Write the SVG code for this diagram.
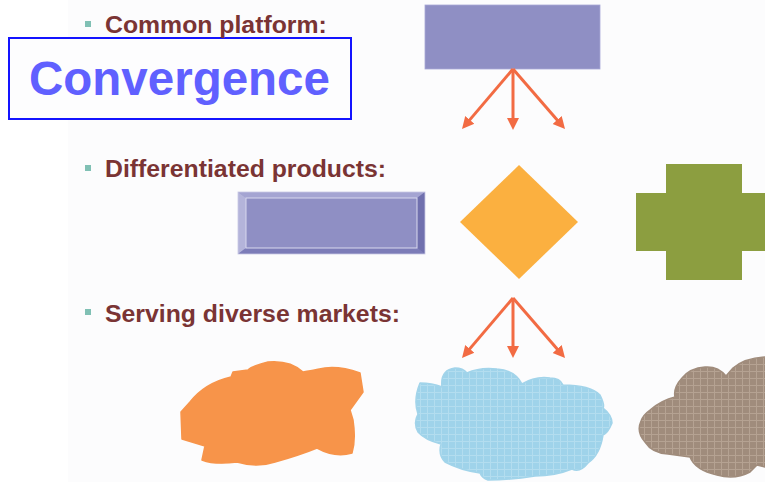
<svg xmlns="http://www.w3.org/2000/svg" width="765" height="482" viewBox="0 0 765 482">
<defs>
<style>
.lbl{font-family:"Liberation Sans",Arial,sans-serif;font-weight:bold;font-size:24.8px;fill:#7a3434}
.bul{fill:#80c0b4}
.arr{stroke:#f26b43;stroke-width:3;fill:none;marker-end:url(#ah)}
</style>
<marker id="ah" markerUnits="userSpaceOnUse" markerWidth="14" markerHeight="14" viewBox="0 -7 14 14" refX="6" refY="0" orient="auto">
<path d="M0,-6 L12,0 L0,6 Z" fill="#f26b43"/>
</marker>
<pattern id="gridB" width="7" height="7" patternUnits="userSpaceOnUse">
<rect width="7" height="7" fill="#9fd3ea"/>
<path d="M0,0.5 H7 M0.5,0 V7" stroke="#b3ddef" stroke-width="1"/>
</pattern>
<pattern id="gridT" width="7" height="7" patternUnits="userSpaceOnUse">
<rect width="7" height="7" fill="#a08c7c"/>
<path d="M0,0.5 H7 M0.5,0 V7" stroke="#b5a292" stroke-width="1"/>
</pattern>
</defs>
<rect width="765" height="482" fill="#ffffff"/>
<rect x="68" y="0" width="697" height="482" fill="#fcfcfd"/>

<g id="title">
<rect x="9" y="38" width="342" height="81" fill="#fdfdfe" stroke="#1414ff" stroke-width="2"/>
<text x="29" y="95" font-family="Liberation Sans,Arial,sans-serif" font-weight="bold" font-size="47.5" fill="#6060ff">Convergence</text>
</g>

<g id="label-common">
<rect class="bul" x="85" y="21" width="6" height="6"/>
<text class="lbl" x="105" y="33">Common platform:</text>
</g>
<g id="label-diff">
<rect class="bul" x="85" y="165" width="6" height="6"/>
<text class="lbl" x="105" y="177">Differentiated products:</text>
</g>
<g id="label-serving">
<rect class="bul" x="85" y="309" width="6" height="6"/>
<text class="lbl" x="105" y="322">Serving diverse markets:</text>
</g>

<g id="platform">
<rect x="425" y="5" width="175" height="64" fill="#8f8fc4" stroke="#a8a8d6" stroke-width="0.8"/>
</g>

<g id="product-bevel">
<rect x="238" y="192" width="187" height="62" fill="#8f8fc4"/>
<polygon points="238,192 425,192 417,198 246,198" fill="#a4a4d2"/>
<polygon points="238,192 246,198 246,248 238,254" fill="#b4b4da"/>
<polygon points="238,254 246,248 417,248 425,254" fill="#7c7cb8"/>
<polygon points="425,192 425,254 417,248 417,198" fill="#7070ae"/>
<rect x="246" y="198" width="171" height="50" fill="#8f8fc4" stroke="#d8d8ee" stroke-width="1"/>
<rect x="238" y="192" width="187" height="62" fill="none" stroke="#c8c8e4" stroke-width="0.8"/>
</g>

<g id="product-diamond">
<polygon points="519,165 578,222 519,279 460,222" fill="#fbb040"/>
</g>

<g id="product-cross">
<polygon points="666,164 742,164 742,193 772,193 772,251 742,251 742,280 666,280 666,251 636,251 636,193 666,193" fill="#8c9e40"/>
</g>

<g id="connectors">
<line class="arr" x1="513" y1="69" x2="465.9" y2="124.4"/>
<line class="arr" x1="513" y1="69" x2="513" y2="124"/>
<line class="arr" x1="513" y1="69" x2="561.1" y2="124.5"/>
<line class="arr" x1="513" y1="298" x2="465.9" y2="353.4"/>
<line class="arr" x1="513" y1="298" x2="513" y2="352"/>
<line class="arr" x1="513" y1="298" x2="561.1" y2="353.5"/>
</g>

<g id="market-orange">
<path d="M181,412 L182,439 L205,446 L202,460 Q215,465 237,462 Q257,468 275,462 Q300,455 317,448 Q335,458 352,453 Q356,440 353,420 L350,410 L363,392 L360,373 Q340,366 325,368 Q310,371 303,372 Q290,360 268,362 Q252,366 248,370 L233,372 L231,377 Q205,383 190,402 Z" fill="#f7944a" stroke="#f7944a" stroke-width="1.5" stroke-linejoin="round"/>
</g>

<g id="market-blue">
<path d="M420,383 Q432,383 442,387 Q440,370 455,368 Q463,368 467,373 Q480,367 497,369 Q515,370 522,384 Q535,376 550,378 Q560,378 563,385 Q590,385 600,395 Q605,405 603,408 Q612,415 612,423 Q608,433 603,435 Q600,455 588,463 Q580,473 572,469 Q555,476 535,476 Q510,480 488,480 Q482,478 480,473 Q460,470 445,462 Q438,455 441,444 Q425,440 418,432 Q413,423 418,414 Q413,400 420,383 Z" fill="url(#gridB)" stroke="#a2d4ea" stroke-width="1.5" stroke-linejoin="round"/>
</g>

<g id="market-taupe">
<path d="M641,421 Q636,432 645,442 Q652,453 668,454 L690,457 Q695,470 717,475 Q735,480 750,472 L757,465 L765,467 L780,468 L780,356 L765,357 Q745,358 733,368 L726,376 Q718,366 705,367 Q690,368 682,378 Q673,388 675,397 Q662,400 650,410 Q643,415 641,421 Z" fill="url(#gridT)" stroke="#a08c7c" stroke-width="1.5" stroke-linejoin="round"/>
</g>
</svg>
